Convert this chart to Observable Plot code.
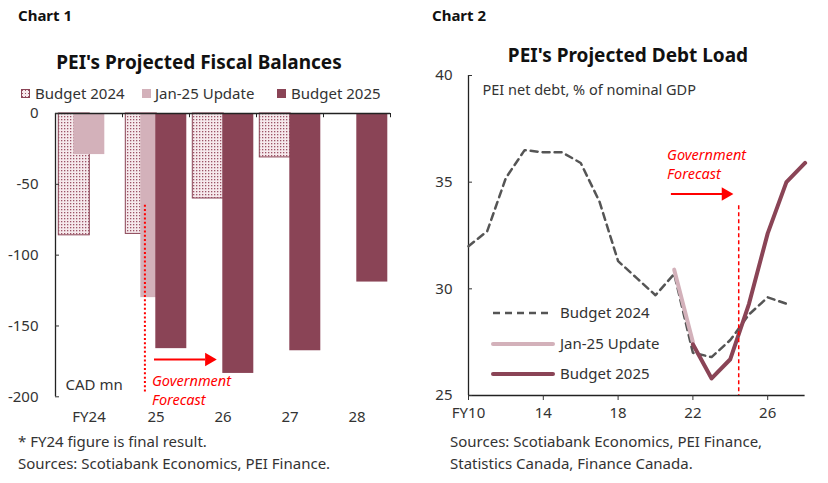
<!DOCTYPE html>
<html><head><meta charset="utf-8">
<script src="https://cdn.jsdelivr.net/npm/d3@7"></script>
<script src="https://cdn.jsdelivr.net/npm/@observablehq/plot@0.6"></script>
<style>
body{margin:0;background:#fff;font-family:"Noto Sans",sans-serif;color:#222}
#root{position:relative;width:828px;height:483px;overflow:hidden;background:#fff}
.abs{position:absolute;white-space:nowrap;line-height:1}
.hdr{font-weight:bold;font-size:15px;color:#111}
.ttl{font-weight:bold;font-size:19px;color:#111;transform:translate(-50%,-50%)}
.note{font-size:15px;color:#333}
.leg{font-size:15px;color:#333}
.sw{position:absolute;width:9px;height:9px}
</style></head><body><div id="root"></div>
<script>
// ---------- Chart 1 data ----------
const fiscalYears = ["FY24", "25", "26", "27", "28"];
const budget2024Bal = [-86, -85, -60, -31, null];
const jan25Bal = [-29, -130, null, null, null];
const budget2025Bal = [null, -166, -183.5, -167.5, -119];
const fiscalTicks = [0, -50, -100, -150, -200];

// ---------- Chart 2 data ----------
const debtYears2024 = [10, 11, 12, 13, 14, 15, 16, 17, 18, 19, 20, 21, 22, 23, 24, 25, 26, 27];
const debtBudget2024 = [32.0, 32.7, 35.2, 36.5, 36.4, 36.4, 35.9, 34.1, 31.3, 30.5, 29.7, 30.7, 27.0, 26.8, 27.6, 28.8, 29.6, 29.3];
const debtYearsJan25 = [21, 22];
const debtJan25 = [30.9, 27.5];
const debtYears2025 = [22, 23, 24, 25, 26, 27, 28];
const debtBudget2025 = [27.4, 25.8, 26.7, 29.3, 32.6, 35.0, 35.9];
const debtTicksX = [10, 14, 18, 22, 26];
const debtTicksY = [25, 30, 35, 40];

const MAROON = "#8a4456";
const PINK = "#d3b1ba";
const GREY = "#555555";
const RED = "#ff0000";
const FONT = "'Noto Sans', sans-serif";

const root = document.getElementById("root");
function addDiv(cls, text, left, top, extra) {
  const d = document.createElement("div");
  d.className = "abs " + cls;
  d.textContent = text;
  d.style.left = left + "px";
  d.style.top = top + "px";
  if (extra) Object.assign(d.style, extra);
  root.appendChild(d);
  return d;
}

// ---------- Headers ----------
addDiv("hdr", "Chart 1", 18, 8);
addDiv("hdr", "Chart 2", 432, 8);
addDiv("ttl", "PEI's Projected Fiscal Balances", 199, 62);
addDiv("ttl", "PEI's Projected Debt Load", 628, 55);

// ---------- Chart 1 ----------
const BW = 67;
const rows = (vals) => fiscalYears.map((x, i) => ({x, v: vals[i]})).filter(d => d.v != null);

const c1 = Plot.plot({
  width: 410, height: 330,
  marginLeft: 55, marginRight: 20, marginTop: 13, marginBottom: 33.7,
  style: {fontFamily: FONT, fontSize: "15px", color: "#333", background: "transparent"},
  x: {domain: fiscalYears, paddingInner: 0, paddingOuter: 0, label: null},
  y: {domain: [-200, 0], label: null},
  marks: [
    Plot.barY(rows(budget2024Bal), {x: "x", y: "v", fill: "url(#dots)", stroke: MAROON, strokeWidth: 1, insetLeft: 3.3, insetRight: 32.7}),
    Plot.barY(rows(jan25Bal), {x: "x", y: "v", fill: PINK, insetLeft: 18.3, insetRight: 17.7}),
    Plot.barY(rows(budget2025Bal), {x: "x", y: "v", fill: MAROON, insetLeft: 33.3, insetRight: 2.7}),
    Plot.ruleY([0], {stroke: "#222", strokeWidth: 1.3}),
    Plot.ruleX([fiscalYears[0]], {dx: -BW / 2, y1: 0, y2: -200, stroke: "#222", strokeWidth: 1.3}),
    Plot.ruleX(fiscalYears, {dx: -BW / 2, y1: 0, y2: -3, stroke: "#222"}),
    Plot.ruleX([fiscalYears[fiscalYears.length - 1]], {dx: BW / 2, y1: 0, y2: -3, stroke: "#222"}),
    Plot.axisY({ticks: fiscalTicks, tickSize: -4, tickPadding: 21, tickFormat: d => String(d), label: null, fontSize: 15}),
    Plot.axisX({anchor: "bottom", tickSize: 0, tickPadding: 15, label: null, fontSize: 15}),
    Plot.text(["CAD mn"], {frameAnchor: "bottom-left", dx: 10, dy: -7, textAnchor: "start", fontSize: 15, fill: "#333"}),
    Plot.ruleX(["25"], {dx: -11.1, y1: -64.7, y2: -198, stroke: RED, strokeWidth: 2, strokeDasharray: "2,2.3"}),
    Plot.ruleY([-173.6], {x1: () => "25", x2: () => "26", insetLeft: 32, insetRight: 51, stroke: RED, strokeWidth: 2}),
    Plot.dot([{x: "26", y: -173.6}], {x: "x", y: "y", dx: -14, symbol: "triangle", rotate: 90, r: 5, fill: RED, stroke: null}),
    Plot.text(["Government\nForecast"], {x: () => "25", y: () => -194.8, dx: -4, textAnchor: "start", fill: RED, fontStyle: "italic", fontSize: 14.5, lineHeight: 1.3})
  ]
});
const defs = d3.select(c1).insert("defs", ":first-child");
const pat = defs.append("pattern").attr("id", "dots").attr("patternUnits", "userSpaceOnUse").attr("width", 3).attr("height", 3);
pat.append("rect").attr("width", 3).attr("height", 3).attr("fill", "#f6e9ec");
pat.append("rect").attr("x", 1).attr("y", 1).attr("width", 1.3).attr("height", 1.3).attr("fill", "#9b5366");
c1.style.position = "absolute"; c1.style.left = "0px"; c1.style.top = "100px";
root.appendChild(c1);

// legend chart 1
const items1 = [["Budget 2024", "pattern", 21, 35], ["Jan-25 Update", PINK, 141.5, 155], ["Budget 2025", MAROON, 277, 291]];
items1.forEach(([t, c, sx, tx]) => {
  const s = document.createElement("div"); s.className = "sw";
  s.style.left = sx + "px"; s.style.top = "89px";
  if (c === "pattern") {
    s.style.background = "radial-gradient(circle, #9b5366 35%, transparent 40%) 0 0/3px 3px, #f6e9ec";
    s.style.boxShadow = "inset 0 0 0 1px " + MAROON;
  } else s.style.background = c;
  root.appendChild(s);
  addDiv("leg", t, tx, 86);
});

addDiv("note", "* FY24 figure is final result.", 18, 434);
addDiv("note", "Sources: Scotiabank Economics, PEI Finance.", 18, 456);

// ---------- Chart 2 ----------
const zipRows = (xs, ys) => xs.map((x, i) => ({x, y: ys[i]}));
const c2 = Plot.plot({
  width: 408, height: 370,
  marginLeft: 48, marginRight: 23.4, marginTop: 15, marginBottom: 35,
  style: {fontFamily: FONT, fontSize: "15px", color: "#333", background: "transparent"},
  x: {domain: [10, 28], label: null},
  y: {domain: [25, 40], label: null},
  marks: [
    Plot.ruleX([10], {stroke: "#222", strokeWidth: 1.3}),
    Plot.ruleY([25], {stroke: "#222", strokeWidth: 1.3}),
    Plot.axisY({ticks: debtTicksY, tickSize: -4, tickPadding: 20, label: null, fontSize: 15}),
    Plot.axisX({ticks: debtTicksX, tickSize: 5, tickPadding: 7, tickFormat: d => d === 10 ? "FY10" : String(d), label: null, fontSize: 15}),
    Plot.text(["PEI net debt, % of nominal GDP"], {frameAnchor: "top-left", dx: 14, dy: 9, textAnchor: "start", fontSize: 14.5, fill: "#333"}),
    Plot.line(zipRows(debtYears2024, debtBudget2024), {x: "x", y: "y", stroke: GREY, strokeWidth: 2.5, strokeDasharray: "7,5"}),
    Plot.line(zipRows(debtYearsJan25, debtJan25), {x: "x", y: "y", stroke: PINK, strokeWidth: 4}),
    Plot.line(zipRows(debtYears2025, debtBudget2025), {x: "x", y: "y", stroke: MAROON, strokeWidth: 4}),
    Plot.ruleX([24.45], {y1: 33.9, y2: 25, stroke: RED, strokeWidth: 1.5, strokeDasharray: "4,3"}),
    Plot.ruleY([34.45], {x1: 20.85, x2: 23.6, stroke: RED, strokeWidth: 2}),
    Plot.dot([{x: 23.75, y: 34.45}], {x: "x", y: "y", symbol: "triangle", rotate: 90, r: 5, fill: RED, stroke: null}),
    Plot.text(["Government\nForecast"], {x: () => 20.62, y: () => 35.88, textAnchor: "start", fill: RED, fontStyle: "italic", fontSize: 14.5, lineHeight: 1.3})
  ]
});
c2.style.position = "absolute"; c2.style.left = "420px"; c2.style.top = "60px";
root.appendChild(c2);

// legend chart 2 (inside plot area)
const leg2 = [["Budget 2024", GREY, "dash"], ["Jan-25 Update", PINK, "solid"], ["Budget 2025", MAROON, "solid"]];
leg2.forEach(([t, c, k], i) => {
  const y = 313 + i * 30.5;
  const svgNS = "http://www.w3.org/2000/svg";
  const s = document.createElementNS(svgNS, "svg");
  s.setAttribute("width", 64); s.setAttribute("height", 10);
  s.style.position = "absolute"; s.style.left = "491px"; s.style.top = (y - 5) + "px";
  const ln = document.createElementNS(svgNS, "line");
  ln.setAttribute("x1", 2); ln.setAttribute("x2", 62); ln.setAttribute("y1", 5); ln.setAttribute("y2", 5);
  ln.setAttribute("stroke", c);
  ln.setAttribute("stroke-width", k === "dash" ? 2.5 : 4);
  ln.setAttribute("stroke-linecap", k === "dash" ? "butt" : "round");
  if (k === "dash") ln.setAttribute("stroke-dasharray", "7,5");
  s.appendChild(ln);
  root.appendChild(s);
  addDiv("leg", t, 560, y - 8);
});

addDiv("note", "Sources: Scotiabank Economics, PEI Finance,", 450, 434);
addDiv("note", "Statistics Canada, Finance Canada.", 450, 456);
</script></body></html>
